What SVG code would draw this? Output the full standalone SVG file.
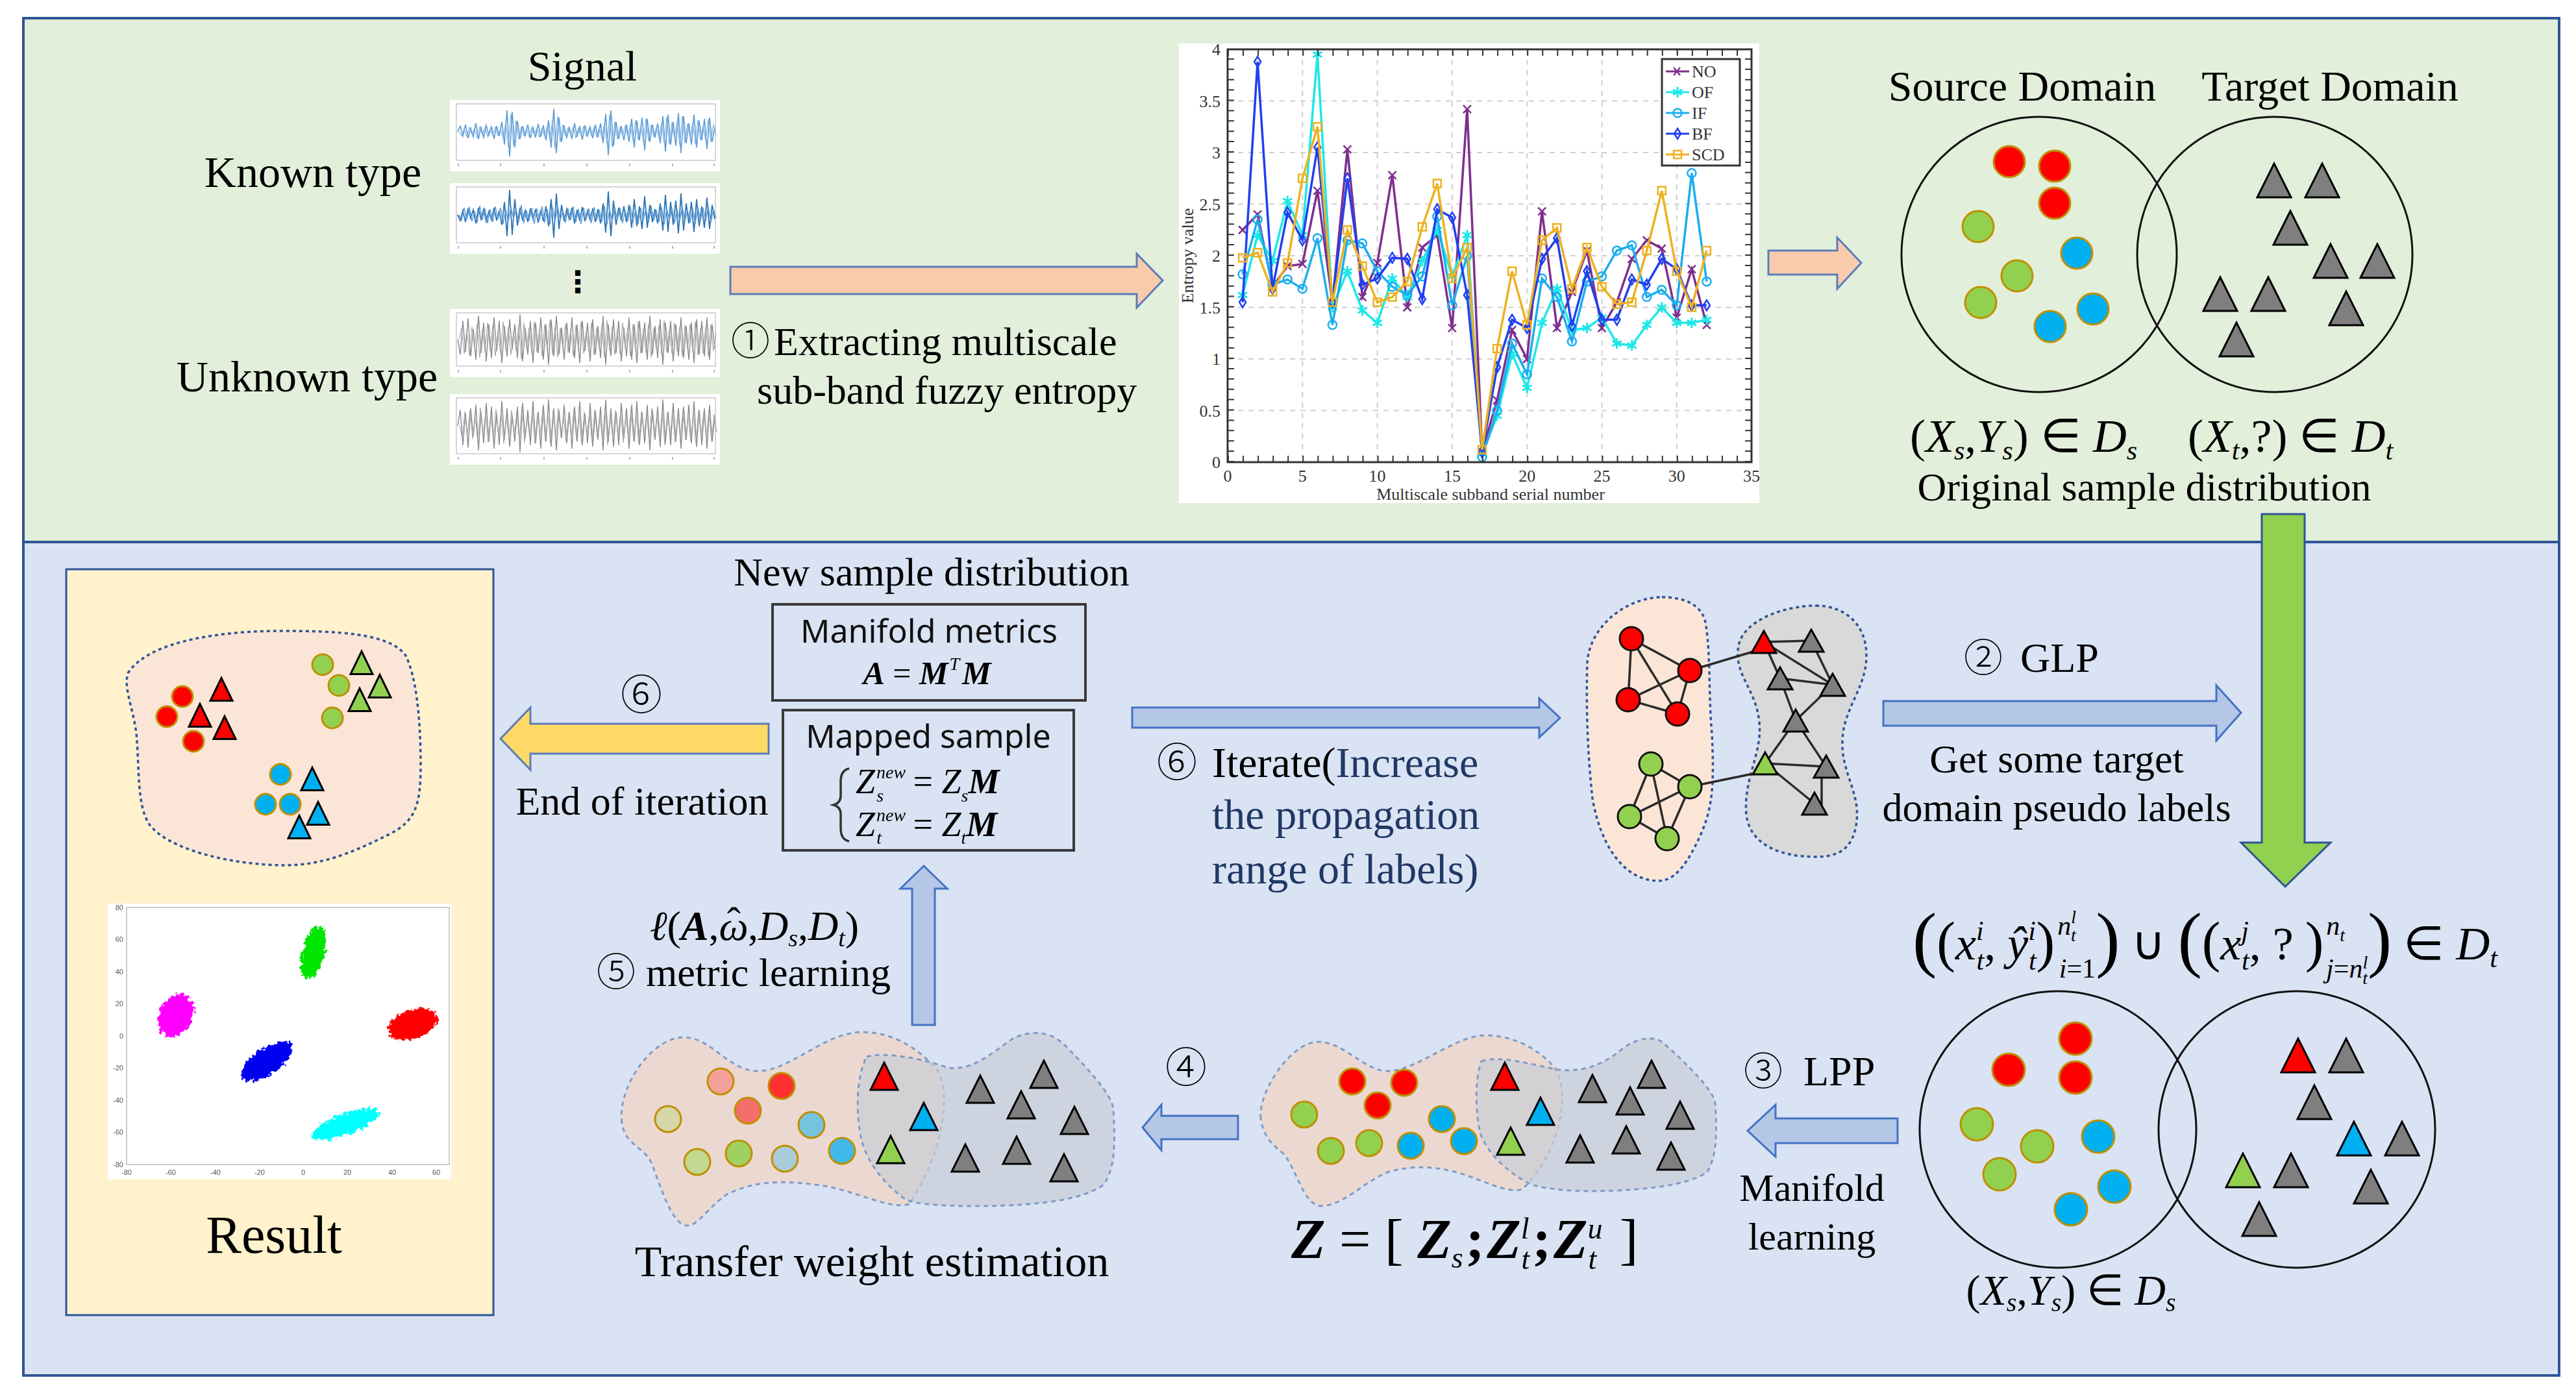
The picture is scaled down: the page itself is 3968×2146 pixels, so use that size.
<svg xmlns="http://www.w3.org/2000/svg" xmlns:xlink="http://www.w3.org/1999/xlink" width="3968" height="2146" viewBox="0 0 3968 2146">
<defs>
<style>
.serif{font-family:"Liberation Serif","Times New Roman",serif;fill:#000}
.sans{font-family:"Noto Sans","Open Sans",sans-serif;fill:#111}
.circ{font-family:"Noto Sans CJK SC","DejaVu Sans",sans-serif;font-weight:300}
.navy{fill:#203864}
.dr{fill:#FF0000;stroke:#BF9000;stroke-width:3}
.dg{fill:#92D050;stroke:#BF9000;stroke-width:3}
.db{fill:#00B0F0;stroke:#BF9000;stroke-width:3}
.nr{fill:#FF0000;stroke:#111;stroke-width:3}
.ng{fill:#92D050;stroke:#111;stroke-width:3}
.tk{fill:#7F7F7F;stroke:#000;stroke-width:3}
.tr{fill:#FF0000;stroke:#000;stroke-width:3}
.tg{fill:#92D050;stroke:#000;stroke-width:3}
.tb{fill:#00B0F0;stroke:#000;stroke-width:3}
.dom{fill:none;stroke:#111;stroke-width:3}
.blobO{fill:#FBE5D6;stroke:#2F5597;stroke-width:3.5;stroke-dasharray:5 5}
.blobG{fill:#D9D9D9;stroke:#2F5597;stroke-width:3.5;stroke-dasharray:5 5}
.blobO2{fill:#EBD9D1;stroke:#7F9CC8;stroke-width:3;stroke-dasharray:7 6}
.blobG2{fill:#C9CDD6;fill-opacity:0.7;stroke:#7F9CC8;stroke-width:3;stroke-dasharray:7 6}
.arB{fill:#B4C7E7;stroke:#4472C4;stroke-width:3}
.box{fill:none;stroke:#3A3A3A;stroke-width:4}
.grid{stroke:#CFCFCF;stroke-width:2;stroke-dasharray:8 8}
.ser{fill:none;stroke-width:3.5}
.tick{font-family:"Liberation Serif",serif;font-size:26px;fill:#333}
.tiny{font-family:"Liberation Sans",sans-serif;font-size:11px;fill:#555}
</style>
<path id="triA" d="M0,-26 L-26,26 L26,26 Z"/>
<path id="triB" d="M0,-17 L-19,17 L19,17 Z"/>
<path id="triC" d="M0,-21 L-21,21 L21,21 Z"/>
<path id="triD" d="M0,-17.5 L-17,17.5 L17,17.5 Z"/>
<path id="waveA" d="M0,0 4,-8 8,6 12,-10 16,9 20,-5 24,7 28,-12 32,10 36,-6 40,8 44,-9 48,5 52,-7 56,10 60,-8 64,6 68,-14 72,18 76,-30 80,35 84,-28 88,22 92,-15 96,10 100,-8 104,6 108,-10 112,9 116,-6 120,8 124,-11 128,7 132,-9 136,12 140,-16 144,22 148,-32 152,30 156,-20 160,14 164,-9 168,8 172,-6 176,10 180,-12 184,7 188,-8 192,11 196,-9 200,6 204,-7 208,9 212,-10 216,8 220,-12 224,16 228,-25 232,33 236,-30 240,20 244,-14 248,10 252,-8 256,12 260,-10 264,14 268,-18 272,22 276,-16 280,12 284,-20 288,26 292,-18 296,14 300,-10 304,8 308,-12 312,16 316,-22 320,28 324,-24 328,18 332,-14 336,20 340,-26 344,30 348,-22 352,16 356,-12 360,18 364,-24 368,22 372,-16 376,12 380,-18 384,24 388,-20 392,14 396,-6" fill="none"/>
<path id="waveB" d="M0,0 4,18 8,-22 12,15 16,-25 20,20 24,-12 28,24 32,-28 36,16 40,-20 44,26 48,-18 52,22 56,-26 60,14 64,-22 68,28 72,-16 76,20 80,-24 84,12 88,-18 92,22 96,-30 100,26 104,-14 108,18 112,-22 116,28 120,-20 124,16 128,-26 132,24 136,-18 140,30 144,-24 148,20 152,-28 156,18 160,-14 164,24 168,-20 172,16 176,-26 180,22 184,-18 188,28 192,-22 196,14 200,-20 204,26 208,-24 212,18 216,-16 220,22 224,-28 228,30 232,-18 236,20 240,-24 244,16 248,-22 252,26 256,-14 260,20 264,-26 268,24 272,-18 276,28 280,-22 284,16 288,-20 292,24 296,-28 300,18 304,-16 308,22 312,-24 316,30 320,-20 324,16 328,-22 332,26 336,-18 340,20 344,-26 348,22 352,-16 356,24 360,-20 364,28 368,-24 372,18 376,-22 380,20 384,-26 388,24 392,-18 396,10" fill="none"/>
<marker id="mNO" markerUnits="userSpaceOnUse" markerWidth="1" markerHeight="1" refX="0" refY="0" overflow="visible" style="overflow:visible"><g transform="scale(0.04337,-0.006289)"><path d="M-6,-6 L6,6 M-6,6 L6,-6" stroke="#7E2F8E" stroke-width="2.5" fill="none"/></g></marker>
<marker id="mOF" markerUnits="userSpaceOnUse" markerWidth="1" markerHeight="1" refX="0" refY="0" overflow="visible" style="overflow:visible"><g transform="scale(0.04337,-0.006289)"><path d="M0,-8 L0,8 M-7,-4 L7,4 M-7,4 L7,-4" stroke="#1CE8E8" stroke-width="3" fill="none"/></g></marker>
<marker id="mIF" markerUnits="userSpaceOnUse" markerWidth="1" markerHeight="1" refX="0" refY="0" overflow="visible" style="overflow:visible"><g transform="scale(0.04337,-0.006289)"><circle r="6.5" stroke="#1AAEEF" stroke-width="2.5" fill="none"/></g></marker>
<marker id="mBF" markerUnits="userSpaceOnUse" markerWidth="1" markerHeight="1" refX="0" refY="0" overflow="visible" style="overflow:visible"><g transform="scale(0.04337,-0.006289)"><path d="M0,-8 L5,0 L0,8 L-5,0 Z" stroke="#2040F0" stroke-width="2.5" fill="none"/></g></marker>
<marker id="mSCD" markerUnits="userSpaceOnUse" markerWidth="1" markerHeight="1" refX="0" refY="0" overflow="visible" style="overflow:visible"><g transform="scale(0.04337,-0.006289)"><rect x="-6" y="-6" width="12" height="12" stroke="#EDB120" stroke-width="2.5" fill="none"/></g></marker>
<filter id="fuzz" x="-40%" y="-40%" width="180%" height="180%"><feTurbulence type="fractalNoise" baseFrequency="0.18" numOctaves="2" seed="4" result="n"/><feDisplacementMap in="SourceGraphic" in2="n" scale="14" xChannelSelector="R" yChannelSelector="G"/></filter>
</defs>

<rect x="0" y="0" width="3968" height="2146" fill="#FFFFFF"/>

<g id="panel-top"><rect x="36" y="28" width="3906" height="807" fill="#E2EFDA" stroke="#2F5597" stroke-width="4"/></g>
<g id="panel-bottom"><rect x="36" y="835" width="3906" height="1284" fill="#DAE3F3" stroke="#2F5597" stroke-width="4"/></g>

<g id="signals">
<text class="serif" x="897" y="124" font-size="66" text-anchor="middle">Signal</text>
<text class="serif" x="482" y="288" font-size="68" text-anchor="middle">Known type</text>
<text class="serif" x="473" y="603" font-size="68" text-anchor="middle">Unknown type</text>
<text x="890" y="450" font-size="46" text-anchor="middle" font-family="DejaVu Sans,sans-serif" font-weight="bold" fill="#000">⋮</text>
<g>
<rect x="693" y="154" width="416" height="110" fill="#FFFFFF"/>
<rect x="703" y="160" width="399" height="87" fill="none" stroke="#C8C8C8" stroke-width="1.5"/>
<use href="#waveA" transform="translate(705,203) scale(1,1.1)" stroke="#5B9BD5" stroke-width="1.6"/>
<use href="#waveA" transform="translate(707,203) scale(1,-0.8)" stroke="#7FB2E0" stroke-width="1.2"/>
<path d="M706,252 v4 M771,252 v4 M838,252 v4 M904,252 v4 M970,252 v4 M1036,252 v4 M1100,252 v4" stroke="#999" stroke-width="1.5"/>
</g>
<g>
<rect x="693" y="282" width="416" height="109" fill="#FFFFFF"/>
<rect x="703" y="288" width="399" height="86" fill="none" stroke="#C8C8C8" stroke-width="1.5"/>
<use href="#waveA" transform="translate(705,331) scale(1,-1.1)" stroke="#2E75B6" stroke-width="1.8"/>
<use href="#waveB" transform="translate(707,331) scale(1,0.5)" stroke="#5B9BD5" stroke-width="1.4"/>
<path d="M706,379 v4 M771,379 v4 M838,379 v4 M904,379 v4 M970,379 v4 M1036,379 v4 M1100,379 v4" stroke="#999" stroke-width="1.5"/>
</g>
<g>
<rect x="693" y="476" width="416" height="105" fill="#FFFFFF"/>
<rect x="703" y="482" width="399" height="82" fill="none" stroke="#C8C8C8" stroke-width="1.5"/>
<use href="#waveB" transform="translate(705,523) scale(1,1.3)" stroke="#8A8A8A" stroke-width="1.4"/>
<use href="#waveB" transform="translate(707,523) scale(1,-1.0)" stroke="#A5A5A5" stroke-width="1.1"/>
<path d="M706,570 v4 M771,570 v4 M838,570 v4 M904,570 v4 M970,570 v4 M1036,570 v4 M1100,570 v4" stroke="#999" stroke-width="1.5"/>
</g>
<g>
<rect x="693" y="607" width="416" height="109" fill="#FFFFFF"/>
<rect x="703" y="613" width="399" height="86" fill="none" stroke="#C8C8C8" stroke-width="1.5"/>
<use href="#waveB" transform="translate(705,656) scale(1,-1.35)" stroke="#8A8A8A" stroke-width="1.4"/>
<use href="#waveB" transform="translate(708,656) scale(1,1.0)" stroke="#A5A5A5" stroke-width="1.1"/>
<path d="M706,704 v4 M771,704 v4 M838,704 v4 M904,704 v4 M970,704 v4 M1036,704 v4 M1100,704 v4" stroke="#999" stroke-width="1.5"/>
</g>
</g>

<g id="entropy-chart">
<rect x="1816" y="67" width="894" height="708" fill="#FFFFFF"/>
<path class="grid" d="M2006.3,76 V712 M2121.6,76 V712 M2236.9,76 V712 M2352.2,76 V712 M2467.5,76 V712 M2582.8,76 V712 M1891,632.5 H2698 M1891,553 H2698 M1891,473.5 H2698 M1891,394 H2698 M1891,314.5 H2698 M1891,235 H2698 M1891,155.5 H2698"/>
<g transform="translate(1891,712) scale(23.06,-159)">
<polyline class="ser" vector-effect="non-scaling-stroke" stroke="#7E2F8E" marker-start="url(#mNO)" marker-mid="url(#mNO)" marker-end="url(#mNO)" points="1,2.25 2,2.4 3,1.7 4,1.9 5,1.92 6,2.63 7,1.55 8,3.03 9,1.6 10,1.93 11,2.78 12,1.5 13,2.08 14,2.2 15,1.3 16,3.42 17,0.1 18,0.6 19,1.28 20,1.0 21,2.43 22,1.3 23,1.65 24,2.05 25,1.3 26,1.55 27,1.97 28,2.15 29,2.07 30,1.4 31,1.87 32,1.33"/>
<polyline class="ser" vector-effect="non-scaling-stroke" stroke="#1CE8E8" marker-start="url(#mOF)" marker-mid="url(#mOF)" marker-end="url(#mOF)" points="1,1.62 2,2.2 3,1.95 4,2.53 5,2.2 6,3.95 7,1.5 8,1.85 9,1.47 10,1.35 11,1.78 12,1.6 13,1.95 14,2.25 15,1.8 16,2.2 17,0.08 18,0.45 19,1.05 20,0.72 21,1.35 22,1.68 23,1.28 24,1.3 25,1.4 26,1.15 27,1.13 28,1.33 29,1.5 30,1.35 31,1.35 32,1.38"/>
<polyline class="ser" vector-effect="non-scaling-stroke" stroke="#1AAEEF" marker-start="url(#mIF)" marker-mid="url(#mIF)" marker-end="url(#mIF)" points="1,1.82 2,2.35 3,1.72 4,1.77 5,1.68 6,2.17 7,1.33 8,2.15 9,2.12 10,1.85 11,1.7 12,1.62 13,1.8 14,2.38 15,1.52 16,2.0 17,0.05 18,0.5 19,1.15 20,0.85 21,1.78 22,1.6 23,1.17 24,1.75 25,1.8 26,2.05 27,2.1 28,1.6 29,1.67 30,1.52 31,2.8 32,1.75"/>
<polyline class="ser" vector-effect="non-scaling-stroke" stroke="#2040F0" marker-start="url(#mBF)" marker-mid="url(#mBF)" marker-end="url(#mBF)" points="1,1.55 2,3.88 3,1.68 4,2.42 5,2.15 6,3.05 7,1.55 8,2.75 9,1.72 10,1.78 11,1.98 12,1.97 13,1.58 14,2.45 15,2.37 16,1.62 17,0.1 18,0.92 19,1.38 20,1.3 21,1.97 22,2.17 23,1.32 24,1.85 25,1.38 26,1.38 27,1.77 28,1.72 29,1.97 30,1.87 31,1.52 32,1.52"/>
<polyline class="ser" vector-effect="non-scaling-stroke" stroke="#EDB120" marker-start="url(#mSCD)" marker-mid="url(#mSCD)" marker-end="url(#mSCD)" points="1,1.98 2,2.03 3,1.65 4,1.93 5,2.75 6,3.25 7,1.55 8,2.25 9,1.9 10,1.55 11,1.6 12,1.75 13,2.28 14,2.7 15,1.78 16,2.08 17,0.12 18,1.1 19,1.85 20,1.33 21,2.15 22,2.27 23,1.68 24,2.08 25,1.7 26,1.53 27,1.55 28,2.05 29,2.63 30,1.85 31,1.5 32,2.05"/>
</g>
<rect x="1891" y="76" width="807" height="636" fill="none" stroke="#333" stroke-width="3"/>
<path d="M1891,707 H2698 M1891,81 H2698" stroke="#333" stroke-width="10" stroke-dasharray="2 21.06" fill="none"/>
<path d="M1896,712 V76 M2693,712 V76" stroke="#333" stroke-width="10" stroke-dasharray="2 13.9" fill="none"/>
<text class="tick" x="1880" y="721" text-anchor="end">0</text>
<text class="tick" x="1880" y="641.5" text-anchor="end">0.5</text>
<text class="tick" x="1880" y="562" text-anchor="end">1</text>
<text class="tick" x="1880" y="482.5" text-anchor="end">1.5</text>
<text class="tick" x="1880" y="403" text-anchor="end">2</text>
<text class="tick" x="1880" y="323.5" text-anchor="end">2.5</text>
<text class="tick" x="1880" y="244" text-anchor="end">3</text>
<text class="tick" x="1880" y="164.5" text-anchor="end">3.5</text>
<text class="tick" x="1880" y="85" text-anchor="end">4</text>
<text class="tick" x="1891" y="742" text-anchor="middle">0</text>
<text class="tick" x="2006.3" y="742" text-anchor="middle">5</text>
<text class="tick" x="2121.6" y="742" text-anchor="middle">10</text>
<text class="tick" x="2236.9" y="742" text-anchor="middle">15</text>
<text class="tick" x="2352.2" y="742" text-anchor="middle">20</text>
<text class="tick" x="2467.5" y="742" text-anchor="middle">25</text>
<text class="tick" x="2582.8" y="742" text-anchor="middle">30</text>
<text class="tick" x="2698" y="742" text-anchor="middle">35</text>
<text class="tick" x="2296" y="770" text-anchor="middle" font-size="24" fill="#666">Multiscale subband serial number</text>
<text class="tick" x="0" y="0" text-anchor="middle" font-size="26" fill="#555" transform="translate(1838,394) rotate(-90)">Entropy value</text>
<rect x="2560" y="91" width="120" height="164" fill="#FFFFFF" stroke="#333" stroke-width="3"/>
<path d="M2566,110 H2602" stroke="#7E2F8E" stroke-width="3"/><path d="M2578,104 l10,12 M2578,116 l10,-12" stroke="#7E2F8E" stroke-width="2.5"/>
<path d="M2566,142 H2602" stroke="#1CE8E8" stroke-width="3"/><path d="M2584,134 v16 M2577,138 l14,8 M2577,146 l14,-8" stroke="#1CE8E8" stroke-width="3"/>
<path d="M2566,174 H2602" stroke="#1AAEEF" stroke-width="3"/><circle cx="2584" cy="174" r="6.5" fill="none" stroke="#1AAEEF" stroke-width="2.5"/>
<path d="M2566,206 H2602" stroke="#2040F0" stroke-width="3"/><path d="M2584,198 l5,8 l-5,8 l-5,-8 Z" fill="none" stroke="#2040F0" stroke-width="2.5"/>
<path d="M2566,238 H2602" stroke="#EDB120" stroke-width="3"/><rect x="2578" y="232" width="12" height="12" fill="none" stroke="#EDB120" stroke-width="2.5"/>
<text class="tick" x="2606" y="119" font-size="24">NO</text>
<text class="tick" x="2606" y="151" font-size="24">OF</text>
<text class="tick" x="2606" y="183" font-size="24">IF</text>
<text class="tick" x="2606" y="215" font-size="24">BF</text>
<text class="tick" x="2606" y="247" font-size="24">SCD</text>
</g>

<g id="original-distribution">
<text class="serif" x="3115" y="155" font-size="66" text-anchor="middle">Source Domain</text>
<text class="serif" x="3589" y="155" font-size="66" text-anchor="middle">Target Domain</text>
<circle class="dom" cx="3141" cy="392" r="212"/>
<circle class="dom" cx="3504" cy="392" r="212"/>
<circle class="dr" cx="3095" cy="249" r="24"/><circle class="dr" cx="3165" cy="256" r="24"/><circle class="dr" cx="3165" cy="313" r="24"/>
<circle class="dg" cx="3047" cy="349" r="24"/><circle class="dg" cx="3107" cy="425" r="24"/><circle class="dg" cx="3051" cy="466" r="24"/>
<circle class="db" cx="3199" cy="390" r="24"/><circle class="db" cx="3224" cy="476" r="24"/><circle class="db" cx="3158" cy="503" r="24"/>
<use href="#triA" class="tk" x="3503" y="278"/><use href="#triA" class="tk" x="3577" y="278"/><use href="#triA" class="tk" x="3528" y="351"/>
<use href="#triA" class="tk" x="3590" y="402"/><use href="#triA" class="tk" x="3662" y="402"/><use href="#triA" class="tk" x="3420" y="453"/>
<use href="#triA" class="tk" x="3494" y="453"/><use href="#triA" class="tk" x="3614" y="475"/><use href="#triA" class="tk" x="3445" y="523"/>
<text class="serif" x="3117" y="696" font-size="72" text-anchor="middle">(<tspan font-style="italic">X</tspan><tspan font-style="italic" font-size="42" dy="12">s</tspan><tspan dy="-12">,</tspan><tspan font-style="italic">Y</tspan><tspan font-style="italic" font-size="42" dy="12">s</tspan><tspan dy="-12">) ∈ </tspan><tspan font-style="italic">D</tspan><tspan font-style="italic" font-size="42" dy="12">s</tspan></text>
<text class="serif" x="3528" y="696" font-size="72" text-anchor="middle">(<tspan font-style="italic">X</tspan><tspan font-style="italic" font-size="42" dy="12">t</tspan><tspan dy="-12">,?) ∈ </tspan><tspan font-style="italic">D</tspan><tspan font-style="italic" font-size="42" dy="12">t</tspan></text>
<text class="serif" x="3303" y="771" font-size="62" text-anchor="middle">Original sample distribution</text>
</g>

<g id="result">
<rect x="102" y="877" width="658" height="1149" fill="#FFF2CC" stroke="#2F5597" stroke-width="3"/>
<path class="blobO" d="M197,1037 C230,985 350,972 430,972 C520,972 600,975 625,1010 C640,1040 648,1100 648,1180 C648,1240 640,1265 600,1285 C550,1310 500,1333 440,1333 C360,1333 260,1310 230,1270 C210,1240 215,1180 210,1130 C205,1090 190,1060 197,1037 Z"/>
<circle class="dr" cx="281" cy="1073" r="16"/><circle class="dr" cx="257" cy="1104" r="16"/><circle class="dr" cx="298" cy="1142" r="16"/>
<use href="#triD" class="tr" x="341" y="1062"/><use href="#triD" class="tr" x="308" y="1102"/><use href="#triD" class="tr" x="346" y="1121"/>
<circle class="dg" cx="497" cy="1024" r="16"/><circle class="dg" cx="522" cy="1056" r="16"/><circle class="dg" cx="512" cy="1106" r="16"/>
<use href="#triD" class="tg" x="557" y="1021"/><use href="#triD" class="tg" x="585" y="1057"/><use href="#triD" class="tg" x="554" y="1078"/>
<circle class="db" cx="432" cy="1193" r="16"/><circle class="db" cx="409" cy="1239" r="16"/><circle class="db" cx="447" cy="1239" r="16"/>
<use href="#triD" class="tb" x="481" y="1200"/><use href="#triD" class="tb" x="490" y="1253"/><use href="#triD" class="tb" x="461" y="1274"/>
<rect x="166" y="1392" width="529" height="425" fill="#FFFFFF"/>
<rect x="195" y="1398" width="497" height="396" fill="none" stroke="#BBBBBB" stroke-width="1.5"/>
<g filter="url(#fuzz)">
<ellipse cx="483" cy="1467" rx="17" ry="42" transform="rotate(15 483 1467)" fill="#00E600"/>
<ellipse cx="271" cy="1564" rx="26" ry="34" transform="rotate(30 271 1564)" fill="#FF00FF"/>
<ellipse cx="636" cy="1578" rx="40" ry="22" transform="rotate(-18 636 1578)" fill="#FF0000"/>
<ellipse cx="411" cy="1635" rx="46" ry="20" transform="rotate(-35 411 1635)" fill="#0000F0"/>
<ellipse cx="532" cy="1732" rx="55" ry="16" transform="rotate(-20 532 1732)" fill="#00FFFF"/>
</g>
<text class="tiny" x="190" y="1402" text-anchor="end">80</text>
<text class="tiny" x="190" y="1451" text-anchor="end">60</text>
<text class="tiny" x="190" y="1501" text-anchor="end">40</text>
<text class="tiny" x="190" y="1550" text-anchor="end">20</text>
<text class="tiny" x="190" y="1600" text-anchor="end">0</text>
<text class="tiny" x="190" y="1649" text-anchor="end">-20</text>
<text class="tiny" x="190" y="1699" text-anchor="end">-40</text>
<text class="tiny" x="190" y="1748" text-anchor="end">-60</text>
<text class="tiny" x="190" y="1798" text-anchor="end">-80</text>
<text class="tiny" x="195" y="1810" text-anchor="middle">-80</text>
<text class="tiny" x="263" y="1810" text-anchor="middle">-60</text>
<text class="tiny" x="332" y="1810" text-anchor="middle">-40</text>
<text class="tiny" x="400" y="1810" text-anchor="middle">-20</text>
<text class="tiny" x="467" y="1810" text-anchor="middle">0</text>
<text class="tiny" x="535" y="1810" text-anchor="middle">20</text>
<text class="tiny" x="604" y="1810" text-anchor="middle">40</text>
<text class="tiny" x="672" y="1810" text-anchor="middle">60</text>
<text class="serif" x="422" y="1930" font-size="82" text-anchor="middle">Result</text>
</g>

<g id="new-sample-distribution">
<text class="serif" x="1435" y="902" font-size="62" text-anchor="middle">New sample distribution</text>
<rect class="box" x="1190" y="931" width="482" height="148"/>
<text class="sans" x="1431" y="990" font-size="50" text-anchor="middle">Manifold metrics</text>
<text class="serif" x="1428" y="1054" font-size="50" text-anchor="middle" font-weight="bold" font-style="italic">A<tspan font-style="normal" font-weight="normal"> = </tspan>M<tspan font-size="28" font-weight="normal" dx="2" dy="-22">T</tspan><tspan dx="4" dy="22">M</tspan></text>
<rect class="box" x="1206" y="1094" width="448" height="216"/>
<text class="sans" x="1430" y="1152" font-size="50" text-anchor="middle">Mapped sample</text>
<path d="M1308,1184 C1298,1186 1295,1194 1295,1204 L1295,1226 C1295,1234 1291,1238 1284,1240 C1291,1242 1295,1246 1295,1254 L1295,1276 C1295,1286 1298,1294 1308,1296" fill="none" stroke="#333" stroke-width="3.5"/>
<text class="serif" x="1318" y="1222" font-size="54" font-style="italic">Z<tspan font-size="28" dx="2" y="1199">new</tspan><tspan font-size="28" dx="-45" y="1235">s</tspan><tspan font-style="normal" dx="32" y="1222"> = </tspan>Z<tspan font-size="28" y="1235">s</tspan><tspan font-weight="bold" y="1222">M</tspan></text>
<text class="serif" x="1318" y="1288" font-size="54" font-style="italic">Z<tspan font-size="28" dx="2" y="1265">new</tspan><tspan font-size="28" dx="-45" y="1300">t</tspan><tspan font-style="normal" dx="35" y="1288"> = </tspan>Z<tspan font-size="28" y="1300">t</tspan><tspan font-weight="bold" y="1288">M</tspan></text>
</g>

<g id="transfer-weight">
<path class="blobO2" d="M958,1730 C950,1680 1000,1600 1052,1598 C1095,1597 1120,1648 1165,1650 C1215,1652 1270,1590 1328,1590 C1380,1590 1420,1620 1445,1650 C1470,1700 1440,1800 1400,1855 C1370,1865 1310,1830 1256,1825 C1200,1818 1160,1820 1120,1840 C1090,1860 1075,1890 1057,1888 C1030,1885 1010,1800 1000,1785 C985,1765 962,1760 958,1730 Z"/>
<path class="blobG2" d="M1335,1628 C1360,1620 1420,1630 1460,1645 C1500,1650 1530,1620 1560,1600 C1590,1585 1620,1590 1640,1610 C1680,1650 1715,1690 1715,1710 C1718,1760 1718,1800 1700,1825 C1660,1855 1560,1858 1500,1858 C1450,1858 1410,1855 1395,1848 C1370,1830 1340,1800 1328,1760 C1318,1720 1318,1660 1335,1628 Z"/>
<circle cx="1110" cy="1666" r="20" fill="#F4A09A" stroke="#BF9000" stroke-width="3"/>
<circle cx="1204" cy="1673" r="20" fill="#FF3030" stroke="#BF9000" stroke-width="3"/>
<circle cx="1152" cy="1711" r="20" fill="#F46E6A" stroke="#BF9000" stroke-width="3"/>
<circle cx="1029" cy="1724" r="20" fill="#D6D6A8" stroke="#BF9000" stroke-width="3"/>
<circle cx="1250" cy="1733" r="20" fill="#74C4E0" stroke="#BF9000" stroke-width="3"/>
<circle cx="1074" cy="1790" r="20" fill="#C0D890" stroke="#BF9000" stroke-width="3"/>
<circle cx="1138" cy="1777" r="20" fill="#A0D060" stroke="#BF9000" stroke-width="3"/>
<circle cx="1209" cy="1785" r="20" fill="#A8CCD8" stroke="#BF9000" stroke-width="3"/>
<circle cx="1297" cy="1773" r="20" fill="#40B8E8" stroke="#BF9000" stroke-width="3"/>
<use href="#triC" class="tr" x="1362" y="1658"/><use href="#triC" class="tb" x="1423" y="1720"/><use href="#triC" class="tg" x="1372" y="1771"/>
<use href="#triC" class="tk" x="1510" y="1678"/><use href="#triC" class="tk" x="1608" y="1655"/><use href="#triC" class="tk" x="1573" y="1702"/>
<use href="#triC" class="tk" x="1655" y="1726"/><use href="#triC" class="tk" x="1487" y="1784"/><use href="#triC" class="tk" x="1566" y="1772"/><use href="#triC" class="tk" x="1639" y="1799"/>
<text class="serif" x="1343" y="1966" font-size="68" text-anchor="middle">Transfer weight estimation</text>
</g>

<g id="z-mapping">
<path class="blobO2" d="M1942,1723 C1938,1680 1990,1605 2030,1605 C2070,1605 2100,1648 2135,1650 C2180,1652 2240,1595 2288,1595 C2340,1595 2380,1625 2397,1648 C2420,1690 2400,1780 2345,1832 C2320,1840 2280,1815 2240,1805 C2200,1795 2170,1797 2140,1805 C2100,1820 2070,1858 2034,1858 C2005,1855 1995,1790 1972,1773 C1955,1760 1945,1745 1942,1723 Z"/>
<path class="blobG2" d="M2282,1635 C2310,1625 2360,1640 2400,1648 C2440,1652 2470,1640 2500,1615 C2520,1600 2545,1595 2560,1605 C2600,1640 2640,1680 2642,1700 C2645,1740 2645,1780 2630,1805 C2600,1830 2500,1835 2450,1835 C2410,1835 2370,1830 2355,1823 C2320,1805 2290,1775 2280,1745 C2272,1710 2272,1660 2282,1635 Z"/>
<circle class="dr" cx="2083" cy="1666" r="20"/><circle class="dr" cx="2163" cy="1668" r="20"/><circle class="dr" cx="2122" cy="1703" r="20"/>
<circle class="dg" cx="2009" cy="1717" r="20"/><circle class="dg" cx="2050" cy="1773" r="20"/><circle class="dg" cx="2109" cy="1761" r="20"/>
<circle class="db" cx="2221" cy="1724" r="20"/><circle class="db" cx="2173" cy="1765" r="20"/><circle class="db" cx="2255" cy="1758" r="20"/>
<use href="#triC" class="tr" x="2318" y="1658"/><use href="#triC" class="tb" x="2373" y="1712"/><use href="#triC" class="tg" x="2327" y="1758"/>
<use href="#triC" class="tk" x="2453" y="1677"/><use href="#triC" class="tk" x="2544" y="1655"/><use href="#triC" class="tk" x="2511" y="1696"/>
<use href="#triC" class="tk" x="2588" y="1718"/><use href="#triC" class="tk" x="2434" y="1770"/><use href="#triC" class="tk" x="2505" y="1756"/><use href="#triC" class="tk" x="2574" y="1781"/>
<text class="serif" x="1989" y="1938" font-size="86" font-weight="bold"><tspan font-style="italic">Z</tspan><tspan font-weight="normal"> = [ </tspan><tspan font-style="italic">Z</tspan><tspan font-size="46" font-style="italic" font-weight="normal" y="1953">s</tspan><tspan dx="4" y="1938">;</tspan><tspan font-style="italic" dx="4">Z</tspan><tspan font-size="46" font-style="italic" font-weight="normal" y="1908">l</tspan><tspan font-size="46" font-style="italic" font-weight="normal" dx="-12" y="1955">t</tspan><tspan dx="4" y="1938">;</tspan><tspan font-style="italic" dx="4">Z</tspan><tspan font-size="46" font-style="italic" font-weight="normal" y="1908">u</tspan><tspan font-size="46" font-style="italic" font-weight="normal" dx="-22" y="1955">t</tspan><tspan font-weight="normal" dx="14" y="1938"> ]</tspan></text>
</g>

<g id="glp-graph">
<path class="blobO" d="M2560,920 C2600,920 2625,935 2628,965 C2635,1010 2632,1080 2637,1130 C2640,1200 2640,1240 2620,1285 C2600,1330 2580,1357 2555,1357 C2500,1357 2465,1300 2453,1230 C2445,1160 2443,1080 2445,1020 C2450,960 2510,920 2560,920 Z"/>
<path class="blobG" d="M2797,933 C2840,933 2875,960 2875,1010 C2875,1060 2840,1090 2838,1140 C2836,1190 2865,1220 2860,1265 C2855,1310 2830,1320 2797,1320 C2740,1320 2695,1300 2690,1255 C2685,1200 2715,1160 2710,1113 C2705,1060 2670,1040 2678,995 C2685,955 2750,933 2797,933 Z"/>
<path d="M2513,984 L2603,1033 M2513,984 L2508,1078 M2513,984 L2584,1100 M2508,1078 L2603,1033 M2508,1078 L2584,1100 M2603,1033 L2584,1100 M2543,1177 L2603,1212 M2543,1177 L2510,1258 M2543,1177 L2568,1292 M2510,1258 L2603,1212 M2510,1258 L2568,1292 M2603,1212 L2568,1292 M2603,1033 L2700,1004 M2603,1212 L2700,1192 M2717,989 L2790,987 M2717,989 L2742,1045 M2717,989 L2823,1055 M2790,987 L2823,1055 M2742,1045 L2823,1055 M2742,1045 L2766,1110 M2823,1055 L2766,1110 M2766,1110 L2719,1176 M2766,1110 L2813,1181 M2719,1176 L2813,1181 M2719,1176 L2795,1238 M2806,1181 L2806,1240" stroke="#2B2B2B" stroke-width="3.5" fill="none"/>
<circle class="nr" cx="2513" cy="984" r="18"/><circle class="nr" cx="2603" cy="1033" r="18"/><circle class="nr" cx="2508" cy="1078" r="18"/><circle class="nr" cx="2584" cy="1100" r="18"/>
<circle class="ng" cx="2543" cy="1177" r="18"/><circle class="ng" cx="2603" cy="1212" r="18"/><circle class="ng" cx="2510" cy="1258" r="18"/><circle class="ng" cx="2568" cy="1292" r="18"/>
<use href="#triB" class="tr" x="2717" y="989"/><use href="#triB" class="tk" x="2790" y="987"/><use href="#triB" class="tk" x="2742" y="1045"/><use href="#triB" class="tk" x="2823" y="1055"/>
<use href="#triB" class="tk" x="2766" y="1110"/><use href="#triB" class="tg" x="2719" y="1176"/><use href="#triB" class="tk" x="2813" y="1181"/><use href="#triB" class="tk" x="2795" y="1238"/>
</g>

<g id="pseudo-label-distribution">
<text class="serif" x="2946" y="1478" font-size="72" font-style="italic"><tspan font-size="112" font-style="normal" y="1484">(</tspan><tspan font-size="86" font-style="normal" y="1480">(</tspan><tspan y="1478">x</tspan><tspan font-size="42" y="1448">i</tspan><tspan font-size="42" dx="-11" y="1494">t</tspan><tspan font-style="normal" y="1478">, </tspan><tspan y="1478">ŷ</tspan><tspan font-size="42" y="1448">i</tspan><tspan font-size="42" dx="-11" y="1494">t</tspan><tspan font-size="86" font-style="normal" y="1480">)</tspan><tspan font-size="42" dx="4" y="1440">n</tspan><tspan font-size="28" y="1422">l</tspan><tspan font-size="28" dx="-8" y="1450">t</tspan><tspan font-size="42" dx="-26" y="1506">i</tspan><tspan font-size="42" font-style="normal" y="1506">=1</tspan><tspan font-size="112" font-style="normal" y="1484">)</tspan><tspan font-style="normal" y="1478"> ∪ </tspan><tspan font-size="112" font-style="normal" y="1484">(</tspan><tspan font-size="86" font-style="normal" y="1480">(</tspan><tspan y="1478">x</tspan><tspan font-size="42" y="1448">j</tspan><tspan font-size="42" dx="-11" y="1494">t</tspan><tspan font-style="normal" y="1478">, ?  </tspan><tspan font-size="86" font-style="normal" y="1480">)</tspan><tspan font-size="42" dx="4" y="1440">n</tspan><tspan font-size="28" y="1450">t</tspan><tspan font-size="42" dx="-29" y="1506">j</tspan><tspan font-size="42" font-style="normal" y="1506">=</tspan><tspan font-size="42" y="1506">n</tspan><tspan font-size="28" y="1492">l</tspan><tspan font-size="28" dx="-8" y="1516">t</tspan><tspan font-size="112" font-style="normal" y="1484">)</tspan><tspan font-style="normal" y="1478"> ∈ </tspan><tspan y="1478">D</tspan><tspan font-size="42" y="1490">t</tspan></text>
<circle class="dom" cx="3170" cy="1740" r="213"/>
<circle class="dom" cx="3538" cy="1740" r="213"/>
<circle class="dr" cx="3197" cy="1600" r="25"/><circle class="dr" cx="3094" cy="1648" r="25"/><circle class="dr" cx="3197" cy="1660" r="25"/>
<circle class="dg" cx="3045" cy="1732" r="25"/><circle class="dg" cx="3138" cy="1766" r="25"/><circle class="dg" cx="3080" cy="1809" r="25"/>
<circle class="db" cx="3232" cy="1751" r="25"/><circle class="db" cx="3257" cy="1828" r="25"/><circle class="db" cx="3190" cy="1863" r="25"/>
<use href="#triA" class="tr" x="3540" y="1626"/><use href="#triA" class="tk" x="3614" y="1626"/><use href="#triA" class="tk" x="3565" y="1698"/>
<use href="#triA" class="tb" x="3626" y="1754"/><use href="#triA" class="tk" x="3700" y="1754"/><use href="#triA" class="tg" x="3455" y="1803"/>
<use href="#triA" class="tk" x="3529" y="1803"/><use href="#triA" class="tk" x="3652" y="1828"/><use href="#triA" class="tk" x="3480" y="1878"/>
<text class="serif" x="3190" y="2010" font-size="66" text-anchor="middle">(<tspan font-style="italic">X</tspan><tspan font-style="italic" font-size="40" dy="10">s</tspan><tspan dy="-10">,</tspan><tspan font-style="italic">Y</tspan><tspan font-style="italic" font-size="40" dy="10">s</tspan><tspan dy="-10">) ∈ </tspan><tspan font-style="italic">D</tspan><tspan font-style="italic" font-size="40" dy="10">s</tspan></text>
</g>

<g id="connectors">
<polygon points="1125,411 1751,411 1751,391 1791,432 1751,474 1751,453 1125,453" fill="#F8CBAD" stroke="#5B7DB8" stroke-width="3"/>
<text class="serif" x="1126" y="547" font-size="62"><tspan class="circ" font-size="60">①</tspan><tspan x="1192">Extracting multiscale</tspan></text>
<text class="serif" x="1166" y="622" font-size="62">sub-band fuzzy entropy</text>
<polygon points="2724,386 2830,386 2830,366 2867,405 2830,445 2830,423 2724,423" fill="#F8CBAD" stroke="#5B7DB8" stroke-width="3"/>
<polygon points="3484,792 3550,792 3550,1298 3590,1298 3520,1366 3452,1298 3484,1298" fill="#92D050" stroke="#2F5597" stroke-width="3"/>
<polygon class="arB" points="2901,1080 3414,1080 3414,1056 3452,1098 3414,1141 3414,1118 2901,1118"/>
<text class="serif" x="3025" y="1035" font-size="64"><tspan class="circ" font-size="60">②</tspan><tspan x="3112">GLP</tspan></text>
<text class="serif" x="3168" y="1190" font-size="62" text-anchor="middle">Get some target</text>
<text class="serif" x="3168" y="1265" font-size="62" text-anchor="middle">domain pseudo labels</text>
<polygon class="arB" points="2923,1723 2735,1723 2735,1702 2692,1742 2735,1782 2735,1761 2923,1761"/>
<text class="serif" x="2686" y="1672" font-size="64"><tspan class="circ" font-size="60">③</tspan><tspan x="2778">LPP</tspan></text>
<text class="serif" x="2791" y="1850" font-size="60" text-anchor="middle">Manifold</text>
<text class="serif" x="2791" y="1925" font-size="60" text-anchor="middle">learning</text>
<polygon class="arB" points="1907,1719 1789,1719 1789,1702 1760,1737 1789,1772 1789,1755 1907,1755"/>
<text class="circ" x="1827" y="1667" font-size="64" text-anchor="middle" fill="#000">④</text>
<polygon class="arB" points="1405,1579 1405,1369 1387,1369 1423,1334 1459,1369 1440,1369 1440,1579"/>
<text class="serif" x="1162" y="1448" font-size="64" text-anchor="middle" font-style="italic">ℓ<tspan font-style="normal">(</tspan><tspan font-weight="bold">A</tspan><tspan font-style="normal">,</tspan>ω<tspan font-style="normal" dx="-33" dy="-6">ˆ</tspan><tspan font-style="normal" dx="11" dy="6">,</tspan>D<tspan font-size="38" dy="10">s</tspan><tspan font-style="normal" dy="-10">,</tspan>D<tspan font-size="38" dy="10">t</tspan><tspan font-style="normal" dy="-10">)</tspan></text>
<text class="serif" x="919" y="1519" font-size="62"><tspan class="circ" font-size="60">⑤</tspan><tspan x="995">metric learning</tspan></text>
<polygon points="1184,1115 817,1115 817,1090 771,1138 817,1186 817,1161 1184,1161" fill="#FFD966" stroke="#5B7DB8" stroke-width="3"/>
<text class="circ" x="988" y="1093" font-size="64" text-anchor="middle" fill="#000">⑥</text>
<text class="serif" x="989" y="1255" font-size="62" text-anchor="middle">End of iteration</text>
<polygon class="arB" points="1744,1090 2371,1090 2371,1076 2403,1106 2371,1136 2371,1121 1744,1121"/>
<text class="serif" x="1782" y="1197" font-size="66"><tspan class="circ" font-size="62">⑥</tspan><tspan x="1867">Iterate(</tspan><tspan class="navy">Increase</tspan></text>
<text class="serif navy" x="1867" y="1277" font-size="66">the propagation</text>
<text class="serif navy" x="1867" y="1361" font-size="66">range of labels)</text>
</g>
</svg>
